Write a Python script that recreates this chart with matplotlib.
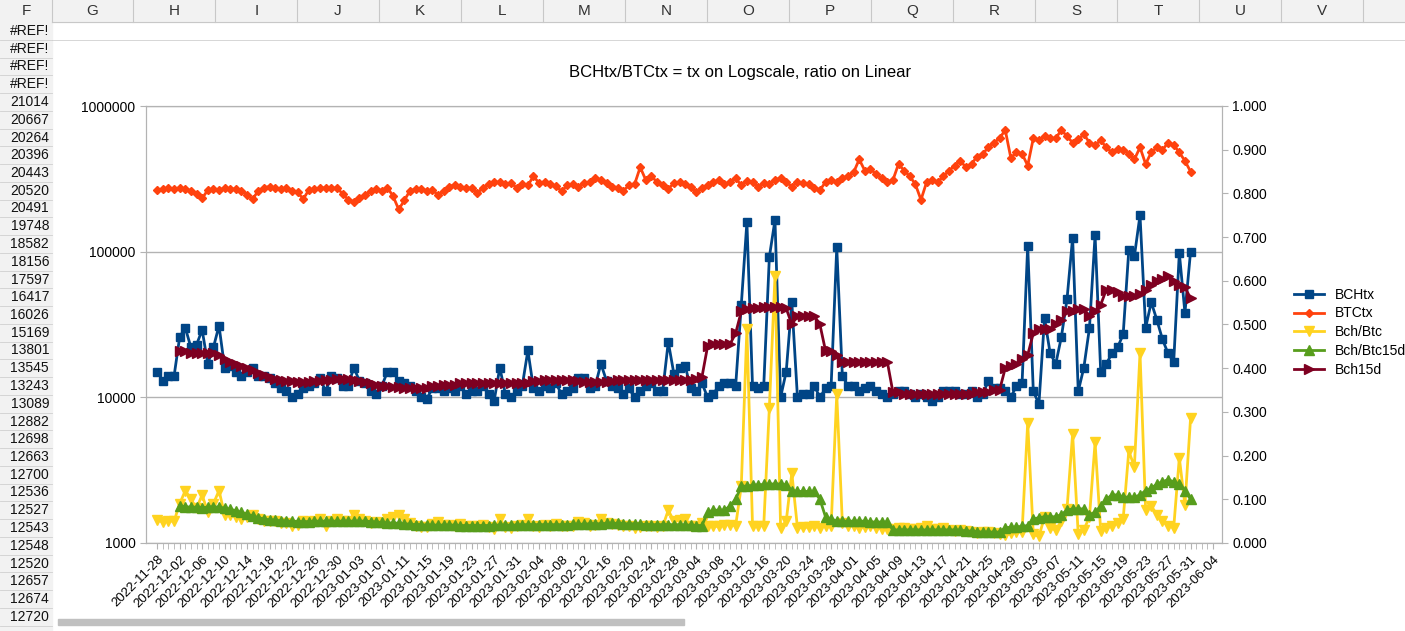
import numpy as np
import pandas as pd
import matplotlib
matplotlib.use("Agg")
import matplotlib.pyplot as plt
from matplotlib.patches import Rectangle
from matplotlib.lines import Line2D
from matplotlib.ticker import FixedLocator, FuncFormatter, NullLocator

nan = np.nan
dates = pd.date_range("2022-11-28", "2023-06-04").strftime("%Y-%m-%d").tolist()

bch_tx = [15000,13000,14000,14000,26000,30000,22000,23000,29000,17000,
22000,31000,16000,16500,15000,14000,15000,16000,14000,14000,
13500,12500,11500,11000,10000,10500,11500,12000,12500,13500,
11000,14000,13500,12000,12000,16000,13000,12500,11000,10500,
12000,15000,15000,13000,12500,12000,11000,10000,9800,11500,
11500,11000,11500,11000,12000,10500,11000,11000,12000,10500,
9500,16000,10500,10000,11000,12000,21000,11500,11000,12000,
11500,12500,10500,11000,11500,13500,13500,11500,12000,17000,
13000,12000,11500,10500,11500,10000,11000,12000,12500,11000,
11000,24000,14500,16000,16500,11500,11000,12500,10000,10500,
12000,12500,12500,12000,43000,160000,12000,11500,12000,92000,
165000,10000,15000,45000,10000,10500,10500,12000,10000,11500,12000,
107000,14000,12000,12000,11000,11500,12000,11000,10500,10000,
10500,11000,11000,10500,10000,10500,10000,9500,10000,11000,
11000,11000,10500,10500,11000,10000,10500,13000,11500,11500,
11000,10000,12000,12500,110000,11000,9000,35000,20000,17000,26000,
47000,125000,11000,16000,30000,130000,15000,17000,20000,22000,
27000,102000,93000,178000,30000,45000,34000,25000,20000,17500,
98000,38000,100000]

btc_tx_k = [265,270,272,268,275,270,262,250,232,265,
270,266,272,268,270,262,245,230,262,275,
280,272,268,275,262,255,230,265,270,272,
275,272,274,250,228,220,232,245,260,270,
262,275,240,195,225,262,268,270,262,265,
245,262,280,288,278,275,272,252,275,290,
300,300,290,295,275,290,285,330,295,302,
290,282,260,285,290,278,295,300,320,310,
295,280,275,262,285,290,380,310,330,300,
285,270,295,300,290,280,255,272,285,300,
310,290,300,320,285,305,300,280,295,290,
310,320,300,280,300,295,290,275,265,300,310,
300,320,330,350,430,360,370,340,320,300,
310,400,360,330,290,227,300,310,300,330,
360,390,420,380,400,450,470,520,560,600,
685,440,480,470,390,600,580,620,600,600,685,
620,560,590,640,560,540,580,520,480,510,
500,470,430,520,400,480,520,500,560,540,
480,420,355]
btc_tx = [v * 1000 for v in btc_tx_k]

bch_btc = [.053,.048,.05,.05,.09,.12,.10,.08,.11,.07,
.09,.12,.065,.065,.06,.055,.06,.065,.055,.05,
.05,.05,.045,.045,.04,.042,.05,.048,.05,.055,
.04,.05,.055,.05,.05,.065,.056,.05,.045,.048,
.045,.055,.06,.065,.055,.045,.04,.037,.037,.044,
.047,.042,.041,.038,.043,.038,.04,.04,.041,.036,
.032,.055,.036,.034,.04,.041,.055,.04,.037,.041,
.04,.044,.04,.039,.04,.048,.046,.038,.041,.055,
.045,.043,.041,.04,.04,.035,.037,.039,.038,.037,
.038,.075,.05,.053,.055,.04,.04,.045,.04,.038,
.038,.042,.042,.04,.13,.49,.04,.04,.04,.31,
.61,.035,.05,.16,.035,.036,.036,.04,.035,.04,.04,
.34,.045,.04,.04,.035,.036,.04,.035,.033,.032,
.033,.034,.034,.032,.033,.035,.04,.032,.033,.035,
.03,.028,.03,.028,.025,.022,.025,.025,.022,.02,
.018,.022,.025,.026,.275,.02,.015,.06,.035,.03,.05,
.078,.25,.02,.03,.06,.23,.028,.035,.04,.045,
.055,.21,.175,.435,.075,.085,.065,.05,.04,.035,
.195,.087,.285]

bch_btc15d = [nan,nan,nan,nan,.085,.083,.082,.082,.081,.082,
.083,.082,.08,.077,.074,.07,.066,.062,.058,.055,
.053,.052,.051,.05,.05,.049,.049,.049,.05,.05,
.05,.05,.05,.05,.05,.05,.05,.05,.049,.048,
.047,.046,.046,.045,.044,.043,.042,.042,.041,.041,
.041,.041,.041,.041,.04,.04,.04,.04,.04,.04,
.041,.041,.041,.041,.041,.042,.042,.042,.042,.042,
.042,.042,.042,.042,.043,.043,.043,.044,.044,.044,
.045,.045,.045,.044,.044,.044,.043,.042,.042,.042,
.042,.042,.042,.042,.041,.041,.04,.04,.07,.075,
.075,.075,.085,.1,.13,.13,.132,.133,.134,.135,
.135,.135,.133,.12,.118,.118,.118,.118,.1,.06,.055,
.05,.05,.05,.05,.05,.05,.048,.048,.048,.048,
.03,.03,.03,.03,.03,.03,.03,.03,.03,.03,
.03,.03,.029,.028,.027,.026,.025,.025,.025,.025,
.035,.036,.037,.038,.04,.055,.058,.06,.06,.06,.065,
.075,.078,.078,.078,.065,.07,.085,.1,.11,.11,
.105,.105,.105,.11,.12,.125,.135,.14,.145,.14,
.135,.12,.1]

bch15d = [nan,nan,nan,nan,.44,.44,.435,.435,.435,.435,
.435,.43,.42,.415,.41,.405,.4,.395,.39,.385,
.38,.375,.372,.37,.37,.368,.368,.368,.37,.37,
.372,.372,.375,.375,.375,.372,.37,.368,.365,.362,
.36,.36,.358,.356,.355,.355,.355,.355,.355,.36,
.36,.362,.362,.362,.365,.365,.365,.365,.365,.365,
.365,.365,.365,.365,.365,.365,.365,.37,.37,.372,
.372,.372,.372,.372,.372,.37,.368,.368,.368,.368,
.368,.37,.372,.372,.372,.372,.372,.372,.372,.372,
.372,.372,.372,.372,.372,.372,.375,.38,.45,.455,
.455,.455,.455,.48,.53,.535,.537,.538,.54,.54,
.54,.54,.537,.5,.52,.52,.52,.52,.5,.44,.44,
.43,.415,.415,.415,.415,.415,.415,.415,.415,.415,
.345,.345,.342,.342,.342,.34,.34,.34,.34,.34,
.34,.34,.342,.342,.342,.345,.345,.345,.35,.35,
.40,.405,.41,.42,.43,.48,.49,.49,.49,.5,.51,
.53,.53,.535,.535,.52,.53,.545,.58,.58,.575,
.565,.565,.565,.57,.58,.59,.6,.605,.61,.6,
.59,.585,.56]

W, H = 1405, 631
fig = plt.figure(figsize=(W/100, H/100), dpi=100)
plt.rcParams['font.family'] = ['Liberation Sans', 'DejaVu Sans']

def fx(px): return px / W
def fy(py): return 1 - py / H

# spreadsheet background
fig.patches.append(Rectangle((0, fy(22)), 1, 22/H, transform=fig.transFigure, color='#f2f2f2', zorder=0))
fig.patches.append(Rectangle((0, 0), fx(52), 1, transform=fig.transFigure, color='#f2f2f2', zorder=0))
cols = ["F","G","H","I","J","K","L","M","N","O","P","Q","R","S","T","U","V"]
cx = [26,92,174,257,338,420,502,584,666,748,830,912,994,1076,1158,1240,1322]
for c, x in zip(cols, cx):
    fig.text(fx(x), fy(11), c, ha='center', va='center', fontsize=11, color='#333333')
for x in [52,133,215,297,379,461,543,625,707,789,871,953,1035,1117,1199,1281,1363]:
    fig.lines.append(Line2D([fx(x), fx(x)], [fy(22), 1], transform=fig.transFigure, color='#c8c8c8', lw=0.8))
left_vals = ["#REF!"]*4 + ["21014","20667","20264","20396","20443","20520","20491","19748","18582","18156",
 "17597","16417","16026","15169","13801","13545","13243","13089","12882","12698","12663","12700","12536",
 "12527","12543","12548","12520","12657","12674","12720"]
for k, v in enumerate(left_vals):
    y = 31 + k*17.75
    fig.text(fx(49), fy(y), v, ha='right', va='center', fontsize=10, color='#111111')
    fig.lines.append(Line2D([0, fx(52)], [fy(y+8.9)]*2, transform=fig.transFigure, color='#d0d0d0', lw=0.6))
fig.lines.append(Line2D([fx(52), 1], [fy(40)]*2, transform=fig.transFigure, color='#d0d0d0', lw=0.6))
fig.lines.append(Line2D([fx(52), 1], [fy(22)]*2, transform=fig.transFigure, color='#c8c8c8', lw=0.8))
fig.patches.append(Rectangle((fx(58), fy(625)), fx(626), 6/H, transform=fig.transFigure, color='#c0c0c0', zorder=0))

fig.text(fx(740), fy(73), "BCHtx/BTCtx = tx on Logscale, ratio on Linear", ha='center', va='center', fontsize=12)

ax = fig.add_axes([fx(146), fy(543), fx(1222-146), (543-106)/H])
ax2 = ax.twinx()
n = len(dates)
x = np.arange(len(bch_tx))
ms = 5.5
ax.plot(x, bch_tx, color='#004586', marker='s', ms=ms, lw=2, label='BCHtx', zorder=3)
ax.plot(x, btc_tx, color='#ff420e', marker='D', ms=ms-1, lw=2, label='BTCtx', zorder=3)
ax2.plot(x, bch_btc, color='#ffd320', marker='v', ms=ms+1, lw=2, label='Bch/Btc')
ax2.plot(x, bch_btc15d, color='#579d1c', marker='^', ms=ms+1, lw=2, label='Bch/Btc15d')
ax2.plot(x, bch15d, color='#7e0021', marker='>', ms=ms+1, lw=2, label='Bch15d')

ax.set_yscale('log')
ax.set_ylim(1000, 1e6)
ax.yaxis.set_major_locator(FixedLocator([1e3, 1e4, 1e5, 1e6]))
ax.yaxis.set_minor_locator(NullLocator())
ax.yaxis.set_major_formatter(FuncFormatter(lambda v, p: f"{int(v)}"))
ax.grid(axis='y', color='#b3b3b3', lw=1)
ax.set_axisbelow(True)
ax2.set_ylim(0, 1)
ax2.set_yticks(np.arange(0, 1.01, 0.1))
ax2.yaxis.set_major_formatter(FuncFormatter(lambda v, p: f"{v:.3f}"))
ax.set_xlim(-2, n + 0.6)
ax.set_xticks(np.arange(0, n, 4))
ax.set_xticklabels(dates[::4], rotation=45, ha='right', rotation_mode='anchor', fontsize=9.5)
ax.set_xticks(np.arange(n), minor=True)
ax.tick_params(axis='x', which='both', length=4, color='#b3b3b3')
for a in (ax, ax2):
    for s in a.spines.values():
        s.set_color('#b3b3b3')
    a.tick_params(axis='y', labelsize=10, color='#b3b3b3', length=4)
    a.set_zorder(1)
ax2.set_zorder(2)

h1, l1 = ax.get_legend_handles_labels()
h2, l2 = ax2.get_legend_handles_labels()
fig.legend(h1 + h2, l1 + l2, loc='upper left', bbox_to_anchor=(fx(1288), fy(282)), frameon=False,
           fontsize=10, handlelength=2.2, labelspacing=0.35, borderaxespad=0)

fig.savefig("out.png", dpi=100)
